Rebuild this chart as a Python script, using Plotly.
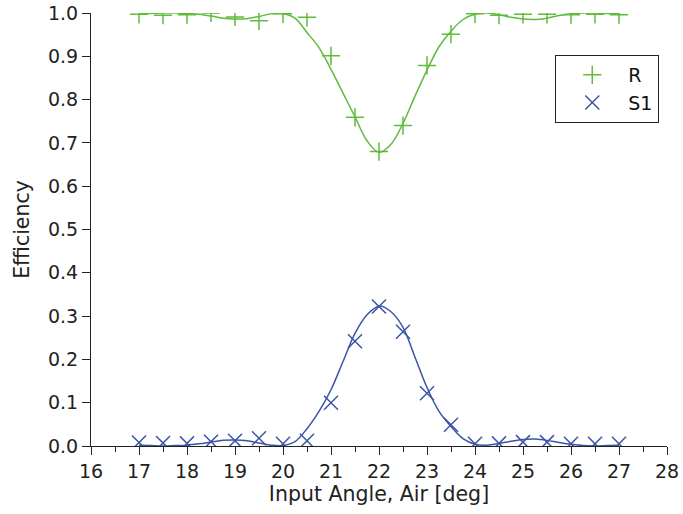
import plotly.graph_objects as go

# measured points
angles = [17.0, 17.5, 18.0, 18.5, 19.0, 19.5, 20.0, 20.5, 21.0, 21.5, 22.0,
          22.5, 23.0, 23.5, 24.0, 24.5, 25.0, 25.5, 26.0, 26.5, 27.0]
r_pts = [0.997, 0.995, 0.996, 1.000, 0.991, 0.982, 0.998, 0.990, 0.901, 0.759, 0.680,
         0.740, 0.879, 0.951, 0.998, 0.995, 0.997, 0.997, 0.996, 0.997, 0.996]
s1_pts = [0.008, 0.007, 0.006, 0.010, 0.012, 0.018, 0.005, 0.012, 0.100, 0.242, 0.322,
          0.264, 0.122, 0.049, 0.005, 0.006, 0.009, 0.009, 0.005, 0.005, 0.005]

# fitted curves
fit_angles = [17.0, 17.25, 17.5, 17.75, 18.0, 18.25, 18.5, 18.75, 19.0, 19.25, 19.5,
              19.75, 20.0, 20.25, 20.5, 20.75, 21.0, 21.25, 21.5, 21.75, 22.0,
              22.25, 22.5, 22.75, 23.0, 23.25, 23.5, 23.75, 24.0, 24.25, 24.5,
              24.75, 25.0, 25.25, 25.5, 25.75, 26.0, 26.25, 26.5, 26.75, 27.0]
r_fit = [0.998, 0.999, 1.000, 1.000, 0.999, 0.997, 0.993, 0.988, 0.986, 0.987, 0.992,
         0.998, 0.999, 0.988, 0.955, 0.920, 0.870, 0.815, 0.760, 0.705, 0.678,
         0.697, 0.745, 0.808, 0.868, 0.922, 0.958, 0.985, 0.997, 1.000, 0.996,
         0.990, 0.986, 0.985, 0.988, 0.994, 0.998, 1.000, 1.000, 0.999, 0.998]
s1_fit = [0.002, 0.001, 0.000, 0.001, 0.002, 0.005, 0.009, 0.013, 0.014, 0.012, 0.007,
          0.002, 0.001, 0.010, 0.040, 0.080, 0.130, 0.195, 0.260, 0.303, 0.323,
          0.310, 0.274, 0.205, 0.135, 0.080, 0.045, 0.017, 0.004, 0.002, 0.006,
          0.011, 0.015, 0.016, 0.013, 0.008, 0.004, 0.001, 0.000, 0.001, 0.002]

x_ticks = list(range(16, 29))
y_ticks = [0.0, 0.1, 0.2, 0.3, 0.4, 0.5, 0.6, 0.7, 0.8, 0.9, 1.0]

GREEN = "#5fbb3c"
BLUE = "#3b55a6"
FONT = "DejaVu Sans"
INK = "#222222"

fig = go.Figure()
fig.add_trace(go.Scatter(x=fit_angles, y=r_fit, mode="lines", line=dict(color=GREEN, width=1.5, shape="spline", smoothing=1.0), showlegend=False, hoverinfo="skip"))
fig.add_trace(go.Scatter(x=fit_angles, y=s1_fit, mode="lines", line=dict(color=BLUE, width=1.5, shape="spline", smoothing=1.0), showlegend=False, hoverinfo="skip"))
fig.add_trace(go.Scatter(x=angles, y=r_pts, mode="markers", name="R",
                         marker=dict(symbol="cross-thin", size=13, line=dict(color=GREEN, width=1.5), color=GREEN)))
fig.add_trace(go.Scatter(x=angles, y=s1_pts, mode="markers", name="S1",
                         marker=dict(symbol="x-thin", size=14, line=dict(color=BLUE, width=1.5), color=BLUE)))

axis_common = dict(showgrid=False, zeroline=False, showline=True, linecolor=INK, linewidth=1,
                   ticks="outside", ticklen=8, tickcolor=INK, tickwidth=1, automargin=False,
                   tickfont=dict(family=FONT, size=19, color=INK))
fig.update_xaxes(range=[16, 28], tickvals=x_ticks, ticktext=[str(v) for v in x_ticks],
                 minor=dict(dtick=0.5, ticks="outside", ticklen=5, tickcolor=INK),
                 title=dict(text="Input Angle, Air [deg]", font=dict(family=FONT, size=20.5, color=INK), standoff=2),
                 **axis_common)
fig.update_yaxes(range=[0, 1], tickvals=y_ticks, ticktext=[f"{v:.1f}" for v in y_ticks],
                 title=dict(text="Efficiency", font=dict(family=FONT, size=20.5, color=INK), standoff=12),
                 **axis_common)
fig.update_layout(
    width=683, height=514,
    margin=dict(l=91, r=16, t=13, b=68),
    plot_bgcolor="white", paper_bgcolor="white",
    font=dict(family=FONT, size=19, color=INK),
    legend=dict(x=0.806, y=0.903, xanchor="left", yanchor="top", bordercolor=INK, borderwidth=1,
                bgcolor="white", font=dict(family=FONT, size=19, color="#111111"),
                itemwidth=62, tracegroupgap=0, entrywidth=110, entrywidthmode="pixels"),
)
fig.write_html("out.html")
